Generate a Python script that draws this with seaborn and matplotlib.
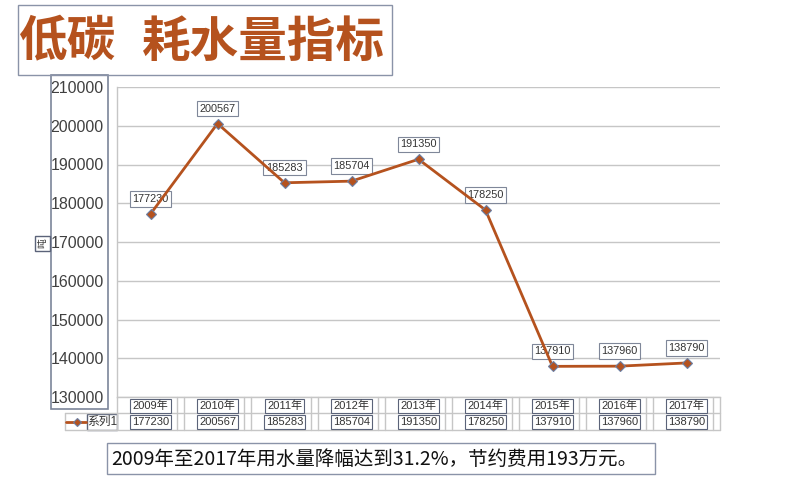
import matplotlib
matplotlib.use('Agg')
import matplotlib.pyplot as plt
import seaborn as sns
import pandas as pd
from matplotlib.patches import Rectangle
from matplotlib.lines import Line2D
from matplotlib import transforms

# ---- data ----
years = ['2009年', '2010年', '2011年', '2012年', '2013年', '2014年', '2015年', '2016年', '2017年']
water = [177230, 200567, 185283, 185704, 191350, 178250, 137910, 137960, 138790]
series_name = '系列1'
unit = '吨'
title_a = '低碳'
title_b = '耗水量指标'
note = '2009年至2017年用水量降幅达到31.2%，节约费用193万元。'
yticks = [130000, 140000, 150000, 160000, 170000, 180000, 190000, 200000, 210000]

sns.set_theme(style='white')
plt.rcParams['font.family'] = ['Liberation Sans', 'Noto Sans CJK SC']

line_color = '#b5521e'
marker_edge = '#6b7fa3'
box_edge = '#5b6379'
light_box = '#8a93a8'
grid_color = '#c6c6c6'

W, H = 800, 482
fig = plt.figure(figsize=(8, 4.82), dpi=100)


def fx(x):
    return x / W


def fy(y):
    return 1 - y / H


def rect(x0, y0, x1, y1, ec, lw=1.0):
    r = Rectangle((fx(x0), fy(y1)), (x1 - x0) / W, (y1 - y0) / H, transform=fig.transFigure,
                  fill=False, ec=ec, lw=lw)
    fig.add_artist(r)


L, R, T, B = 117, 720, 87, 397
ax = fig.add_axes([fx(L), fy(B), (R - L) / W, (B - T) / H])

df = pd.DataFrame({'idx': list(range(len(years))), 'value': water})
sns.lineplot(data=df, x='idx', y='value', ax=ax, color=line_color, linewidth=2.0,
             marker='D', markersize=5, markerfacecolor=line_color,
             markeredgecolor=marker_edge, markeredgewidth=0.8, zorder=3)
ax.set_xlim(-0.5, len(years) - 0.5)
ax.set_ylim(yticks[0], yticks[-1])
ax.set_yticks(yticks)
ax.set_yticklabels([str(v) for v in yticks])
ax.tick_params(axis='y', length=0, pad=9.5, labelsize=11.5, labelcolor='#404040')
ax.set_xticks([])
ax.set_xlabel('')
ax.set_ylabel('')
ax.grid(axis='y', color=grid_color, linewidth=1)
ax.grid(axis='x', visible=False)
for s in ['top', 'right']:
    ax.spines[s].set_visible(False)
for s in ['left', 'bottom']:
    ax.spines[s].set_color(grid_color)
    ax.spines[s].set_linewidth(1)
ax.spines['left'].set_bounds(yticks[0], yticks[-1])

# data labels
for i, v in enumerate(water):
    ax.annotate(str(v), (i, v), xytext=(0, 15), textcoords='offset pixels',
                ha='center', va='center', fontsize=7.8, color='#333333', zorder=2,
                bbox=dict(boxstyle='square,pad=0.25', fc='white', ec='#7f8799', lw=0.8))

# ---- data table ----
trans = transforms.blended_transform_factory(ax.transData, fig.transFigure)
n = len(years)
for k in range(n + 1):
    xb = -0.5 + k
    fig.add_artist(Line2D([xb, xb], [fy(397), fy(430)], transform=trans, color=grid_color, lw=1))
    if k > 0:
        xb2 = xb - 7 / 67
        fig.add_artist(Line2D([xb2, xb2], [fy(397), fy(430)], transform=trans, color=grid_color, lw=1))
fig.add_artist(Line2D([fx(L), fx(R)], [fy(413), fy(413)], transform=fig.transFigure, color=grid_color, lw=1))
fig.add_artist(Line2D([fx(65), fx(L)], [fy(413), fy(413)], transform=fig.transFigure, color=grid_color, lw=1))
fig.add_artist(Line2D([fx(65), fx(R)], [fy(430), fy(430)], transform=fig.transFigure, color=grid_color, lw=1))
fig.add_artist(Line2D([fx(65), fx(65)], [fy(413), fy(430)], transform=fig.transFigure, color=grid_color, lw=1))

for i, (yr, v) in enumerate(zip(years, water)):
    fig.text(i, fy(406), yr, transform=trans, ha='center', va='center', fontsize=8, color='#333333',
             bbox=dict(boxstyle='square,pad=0.2', fc='white', ec=box_edge, lw=0.8))
    fig.text(i, fy(422), str(v), transform=trans, ha='center', va='center', fontsize=8, color='#333333',
             bbox=dict(boxstyle='square,pad=0.2', fc='white', ec=box_edge, lw=0.8))

# legend key in table
fig.add_artist(Line2D([fx(66), fx(86)], [fy(422), fy(422)], transform=fig.transFigure, color=line_color, lw=2))
fig.add_artist(Line2D([fx(77)], [fy(422)], transform=fig.transFigure, marker='D', markersize=4,
                      markerfacecolor=line_color, markeredgecolor=marker_edge, markeredgewidth=0.8, lw=0))
rect(87, 414, 117, 430, box_edge, 1.0)
fig.text(fx(102), fy(422), series_name, ha='center', va='center', fontsize=8.5, color='#333333')

# y tick label box and unit
rect(51, 75, 108, 409, '#7c859a', 1.2)
rect(35, 236, 50, 251, box_edge, 1.0)
fig.text(fx(42.5), fy(243.5), unit, ha='center', va='center', fontsize=7, rotation=90, color='#333333',
         family=['Noto Sans CJK SC'])

# title
rect(18, 5, 392, 75, light_box, 1.0)
fig.text(fx(19), fy(42), title_a, ha='left', va='center', fontsize=35, fontweight='bold',
         color=line_color, family=['Noto Sans CJK SC'])
fig.text(fx(142), fy(42), title_b, ha='left', va='center', fontsize=35, fontweight='bold',
         color=line_color, family=['Noto Sans CJK SC'])

# bottom note
rect(107, 443, 655, 474, light_box, 1.0)
fig.text(fx(111), fy(459), note, ha='left', va='center', fontsize=14, color='#111111',
         family=['Noto Sans CJK SC'])

fig.savefig('out.png', dpi=100, facecolor='white')
